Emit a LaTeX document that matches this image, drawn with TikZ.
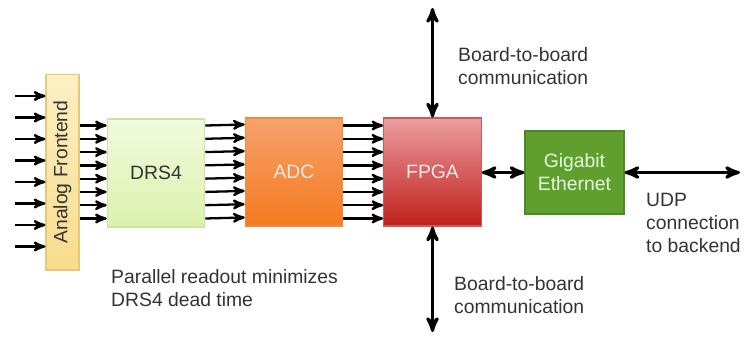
\documentclass[tikz,border=0pt]{standalone}
\usepackage{fontspec}
\setmainfont{Liberation Sans}
\usepackage{xcolor}
\usetikzlibrary{positioning, arrows}

\definecolor{txtgray}{HTML}{333333}
\definecolor{feTop}{HTML}{FCF0C4}
\definecolor{feBot}{HTML}{F8DC8C}
\definecolor{feLine}{HTML}{E8C878}
\definecolor{drsTop}{HTML}{F2FBDE}
\definecolor{drsBot}{HTML}{DCF1AC}
\definecolor{drsLine}{HTML}{CDE5A2}
\definecolor{adcTop}{HTML}{F7A26C}
\definecolor{adcBot}{HTML}{F47A1F}
\definecolor{adcLine}{HTML}{F08A40}
\definecolor{fpgaTop}{HTML}{EC9EA0}
\definecolor{fpgaBot}{HTML}{BE1F1B}
\definecolor{fpgaLine}{HTML}{D05A5A}
\definecolor{gbeFill}{HTML}{609F2D}
\definecolor{gbeLine}{HTML}{4E8A22}

\begin{document}
\begin{tikzpicture}[x=0.02cm, y=-0.02cm, >=stealth', font=\fontsize{11}{13}\selectfont, text=txtgray,
  block/.style={draw, line width=0.6pt, minimum width=1.95cm, minimum height=2.16cm},
  bus/.style={->, line width=1.3pt},
  link/.style={<->, line width=1.8pt},
  note/.style={anchor=west, align=left}]
\useasboundingbox (0,0) rectangle (747,336);
\node[block, draw=feLine, top color=feTop, bottom color=feBot, minimum width=0.66cm, minimum height=3.92cm] at (62.5,172) (fe) {};
\node[rotate=90] at (fe.center) {Analog Frontend};
\node[block, draw=drsLine, top color=drsTop, bottom color=drsBot] at (156,173) (drs) {DRS4};
\node[block, draw=adcLine, top color=adcTop, bottom color=adcBot, text=white!92!black] at (294,172) (adc) {ADC};
\node[block, draw=fpgaLine, top color=fpgaTop, bottom color=fpgaBot, text=white!92!black] at (432.5,172) (fpga) {FPGA};
\node[block, draw=gbeLine, fill=gbeFill, text=white!88!green, align=center, minimum width=1.98cm, minimum height=1.66cm] at (574.5,172.5) (gbe) {Gigabit\\Ethernet};
% inputs
\foreach \y in {96,117.5,139,160.5,182,203.5,225,246.5}
  \draw[bus] (15,\y) -- (fe.west |- 0,\y);
% parallel channels
\foreach \i in {0,...,7} {
  \draw[bus] ([yshift=0.93cm-\i*0.2657cm]fe.east) -- ([yshift=0.93cm-\i*0.2657cm]fe.east -| drs.west);
  \draw[bus] ([yshift=0.95cm-\i*0.2657cm]drs.east) -- ([yshift=0.95cm-\i*0.2657cm]adc.west);
  \draw[bus] ([yshift=0.93cm-\i*0.2657cm]adc.east) -- ([yshift=0.93cm-\i*0.2657cm]fpga.west);
}
\coordinate (up) at (432.5,8);
\coordinate (down) at (432.5,332);
\coordinate (udp) at (740,172.5);
\draw[link] (fpga.north) -- (up);
\draw[link] (fpga.south) -- (down);
\draw[link] (fpga.east |- gbe.west) -- (gbe.west);
\draw[link] (gbe.east) -- (udp);
\node[note] at (452,66) (b2bup) {Board-to-board\\communication};
\node[note] at (448,295) (b2bdown) {Board-to-board\\communication};
\node[note] at (640,223) (udptxt) {UDP\\connection\\to backend};
\node[note] at (105,288) (par) {Parallel readout minimizes\\DRS4 dead time};
\end{tikzpicture}
\end{document}
